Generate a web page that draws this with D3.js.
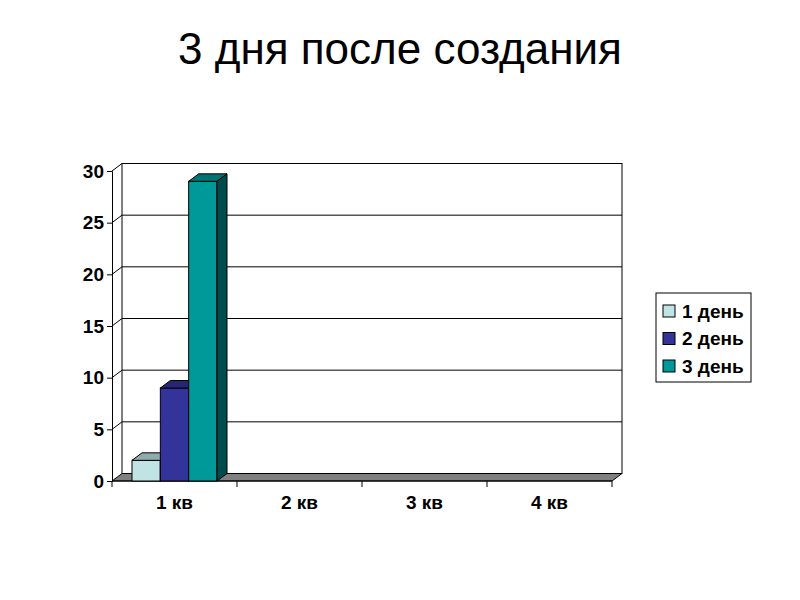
<!DOCTYPE html>
<html>
<head>
<meta charset="utf-8">
<script src="https://cdn.jsdelivr.net/npm/d3@7"></script>
<style>
  body { margin: 0; background: #fff; }
  text { font-family: Arial, "Liberation Sans", sans-serif; }
</style>
</head>
<body>
<script>
var categories = ["1 кв", "2 кв", "3 кв", "4 кв"];
var seriesNames = ["1 день", "2 день", "3 день"];
var day1 = [2, 0, 0, 0];
var day2 = [9, 0, 0, 0];
var day3 = [29, 0, 0, 0];
var yTicks = [0, 5, 10, 15, 20, 25, 30];

var seriesValues = [day1, day2, day3];
var colors = ["#c0e4e4", "#333399", "#009999"];

var width = 800, height = 600;
var dx = 10, dy = -7.5;   // depth offset of the 3d box

var svg = d3.select("body").append("svg")
    .attr("width", width)
    .attr("height", height);

var x0 = d3.scaleBand().domain(categories).range([112, 612])
    .paddingInner(0.32).paddingOuter(0.16);
var x1 = d3.scaleBand().domain(seriesNames).range([0, x0.bandwidth()]);
var y = d3.scaleLinear().domain([0, 30]).range([481, 171]);

var color = d3.scaleOrdinal().domain(seriesNames).range(colors);

// title
svg.append("text")
    .attr("x", 400).attr("y", 64)
    .attr("text-anchor", "middle")
    .style("font-size", "44px")
    .text("3 дня после создания");

var x0L = x0.range()[0], x0R = x0.range()[1];

// back wall outline + gridlines
svg.append("rect")
    .attr("x", x0L + dx).attr("y", y(30) + dy)
    .attr("width", x0R - x0L).attr("height", y(0) - y(30))
    .attr("fill", "none").attr("stroke", "#000").attr("stroke-width", 1);

svg.selectAll(".grid")
    .data(yTicks.slice(1))
    .enter().append("path")
    .attr("class", "grid")
    .attr("fill", "none").attr("stroke", "#000")
    .attr("d", function(d) {
        return "M" + x0L + "," + y(d) + "L" + (x0L + dx) + "," + (y(d) + dy) + "L" + (x0R + dx) + "," + (y(d) + dy);
    });

// floor
svg.append("path")
    .attr("fill", "#808080").attr("stroke", "#000").attr("stroke-width", 1)
    .attr("d", "M" + x0L + "," + y(0) + "L" + (x0L + dx) + "," + (y(0) + dy) +
        "L" + (x0R + dx) + "," + (y(0) + dy) + "L" + x0R + "," + y(0) + "Z");

// y axis (front)
var yAxis = d3.axisLeft(y).tickValues(yTicks).tickSize(5).tickPadding(3);
var gy = svg.append("g").attr("transform", "translate(" + x0L + ",0)").call(yAxis);
gy.select(".domain").attr("stroke", "#000");
gy.selectAll("text").style("font-size", "19px").style("font-weight", "bold")
    .style("font-family", "Arial, 'Liberation Sans', sans-serif").attr("fill", "#000");

// x axis (front)
var xAxis = d3.axisBottom(x0).tickSize(0).tickPadding(15);
var gx = svg.append("g").attr("transform", "translate(0," + y(0) + ")").call(xAxis);
gx.select(".domain").remove();
gx.selectAll("text").style("font-size", "19px").style("font-weight", "bold")
    .style("font-family", "Arial, 'Liberation Sans', sans-serif").attr("fill", "#000");
gx.selectAll(".sep")
    .data(categories.map(function(c, i) { return i; }).concat([categories.length]))
    .enter().append("line")
    .attr("x1", function(i) { return x0L + i * x0.step(); })
    .attr("x2", function(i) { return x0L + i * x0.step(); })
    .attr("y1", 0).attr("y2", 6)
    .attr("stroke", "#000");
gx.append("line").attr("x1", x0L).attr("x2", x0R).attr("y1", 0).attr("y2", 0).attr("stroke", "#000");

// bars
var bars = [];
categories.forEach(function(c, ci) {
    seriesNames.forEach(function(s, si) {
        bars.push({ cat: c, name: s, value: seriesValues[si][ci] });
    });
});

var bar = svg.selectAll(".bar")
    .data(bars.filter(function(d) { return d.value > 0; }))
    .enter().append("g")
    .attr("class", "bar");

bar.append("rect")
    .attr("x", function(d) { return x0(d.cat) + x1(d.name); })
    .attr("y", function(d) { return y(d.value); })
    .attr("width", x1.bandwidth())
    .attr("height", function(d) { return y(0) - y(d.value); })
    .attr("fill", function(d) { return color(d.name); })
    .attr("stroke", "#000").attr("stroke-width", 1);

bar.append("path")
    .attr("fill", function(d) { return d3.rgb(color(d.name)).darker(0.8); })
    .attr("stroke", "#000").attr("stroke-width", 1)
    .attr("d", function(d) {
        var xl = x0(d.cat) + x1(d.name), xr = xl + x1.bandwidth(), yt = y(d.value);
        return "M" + xl + "," + yt + "L" + (xl + dx) + "," + (yt + dy) + "L" + (xr + dx) + "," + (yt + dy) + "L" + xr + "," + yt + "Z";
    });

bar.append("path")
    .attr("fill", function(d) { return d3.rgb(color(d.name)).darker(2); })
    .attr("stroke", "#000").attr("stroke-width", 1)
    .attr("d", function(d) {
        var xr = x0(d.cat) + x1(d.name) + x1.bandwidth(), yt = y(d.value), yb = y(0);
        return "M" + xr + "," + yt + "L" + (xr + dx) + "," + (yt + dy) + "L" + (xr + dx) + "," + (yb + dy) + "L" + xr + "," + yb + "Z";
    });

// legend
var legend = svg.append("g").attr("transform", "translate(656,293)");
legend.append("rect")
    .attr("width", 95).attr("height", 89)
    .attr("fill", "#fff").attr("stroke", "#000");

var item = legend.selectAll(".item")
    .data(seriesNames)
    .enter().append("g")
    .attr("class", "item")
    .attr("transform", function(d, i) { return "translate(7," + (18 + i * 27.5) + ")"; });

item.append("rect")
    .attr("x", 0).attr("y", -6).attr("width", 12).attr("height", 12)
    .attr("fill", function(d) { return color(d); })
    .attr("stroke", "#000");

item.append("text")
    .attr("x", 19).attr("y", 0).attr("dy", "0.35em")
    .style("font-size", "19px").style("font-weight", "bold")
    .text(function(d) { return d; });
</script>
</body>
</html>
